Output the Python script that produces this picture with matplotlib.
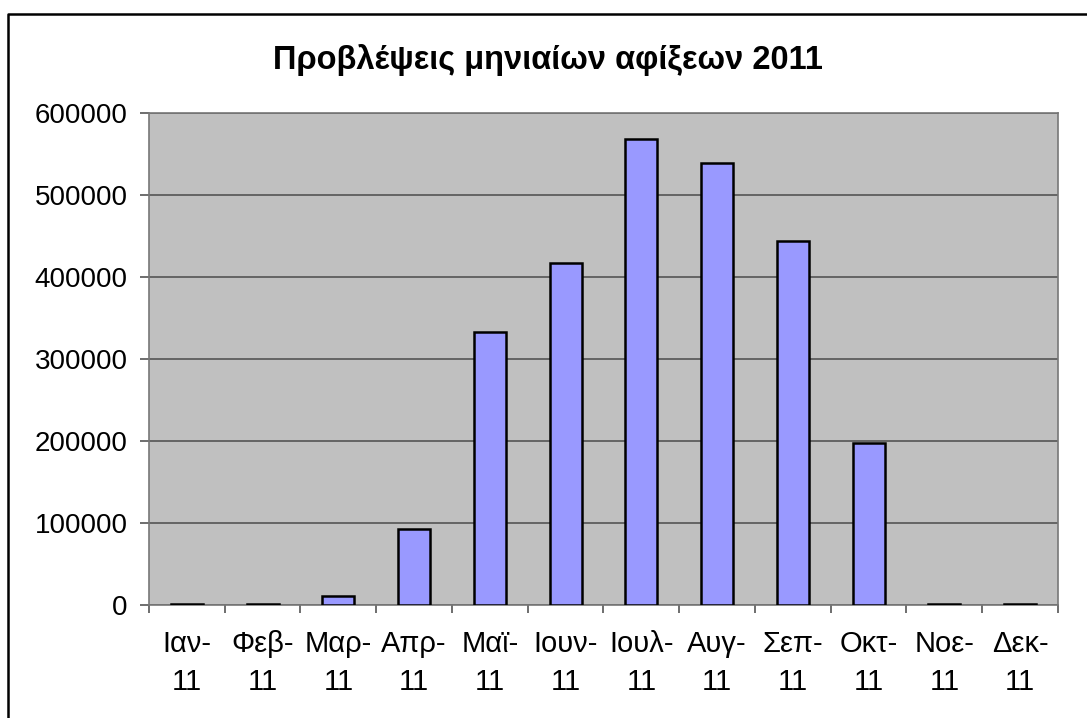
import matplotlib
matplotlib.use('Agg')
import matplotlib.pyplot as plt
from matplotlib.lines import Line2D
import numpy as np

plt.rcParams['font.family'] = ['Liberation Sans', 'DejaVu Sans']

# %% Data
months = ['Ιαν-\n11', 'Φεβ-\n11', 'Μαρ-\n11', 'Απρ-\n11', 'Μαϊ-\n11', 'Ιουν-\n11',
          'Ιουλ-\n11', 'Αυγ-\n11', 'Σεπ-\n11', 'Οκτ-\n11', 'Νοε-\n11', 'Δεκ-\n11']
arrivals = [1500, 1500, 11300, 92600, 333000, 417000,
            568500, 539000, 444500, 197500, 1500, 1500]
yticks = [0, 100000, 200000, 300000, 400000, 500000, 600000]
title = 'Προβλέψεις μηνιαίων αφίξεων 2011'

# %% Plot
W, H = 1087, 718
fig = plt.figure(figsize=(W / 100, H / 100), dpi=100)
ax = fig.add_axes([149 / W, 1 - 605 / H, (1058 - 149) / W, (605 - 113) / H])
ax.set_facecolor('#C0C0C0')

x = np.arange(len(months))
ax.bar(x, arrivals, width=0.42, color='#9999FF', edgecolor='black', linewidth=1.8, zorder=3)

ax.set_ylim(0, 600000)
ax.set_xlim(-0.5, len(months) - 0.5)
ax.set_yticks(yticks)
ax.set_yticklabels([str(v) for v in yticks], fontsize=20)
ax.yaxis.grid(True, color='#555555', linewidth=1.2, zorder=1)

ax.set_xticks(x)
ax.set_xticklabels(months, fontsize=21, linespacing=1.45)
ax.set_xticks(np.arange(-0.5, len(months)), minor=True)
ax.tick_params(axis='x', which='major', length=0, pad=18)
ax.tick_params(axis='x', which='minor', length=6, width=1.2, color='#555555')
ax.tick_params(axis='y', length=6.5, width=1.2, color='#555555', pad=9)

for side in ['left', 'bottom', 'top', 'right']:
    ax.spines[side].set_color('#777777')
    ax.spines[side].set_linewidth(1.2)

fig.text(548 / W, 1 - 60 / H, title, fontsize=23.5, fontweight='bold', ha='center', va='center')

# outer chart border (cropped at right and bottom)
fig.add_artist(Line2D([8 / W, 8 / W, 1.0], [0.0, 1 - 14 / H, 1 - 14 / H],
                      transform=fig.transFigure, color='black', linewidth=1.8))

plt.savefig('out.png', dpi=100)
